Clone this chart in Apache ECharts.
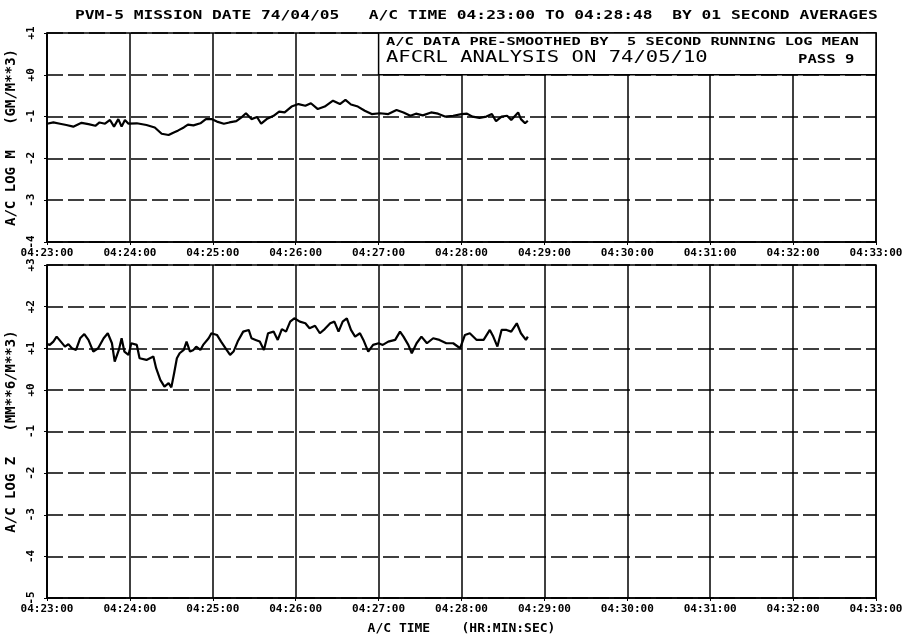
<!DOCTYPE html>
<html>
<head>
<meta charset="utf-8">
<script src="https://cdn.jsdelivr.net/npm/echarts@6/dist/echarts.min.js"></script>
<style>html,body{margin:0;padding:0;background:#fff}#c{width:906px;height:637px}</style>
</head>
<body>
<div id="c"></div>
<script>
// seconds after 04:23:00
var topSec = [0,4.6,9.4,14,19,25,30,35,38,42,45.6,48.5,51.6,54,56.4,59,65,72,78,83,88,91,95,99,102,106,111,115,119,123,128,132,137,141,144,148,152,155,159,164,168,172,177,182,187,191,196,201,207,212,216,220,225,230,235,241,247,253,258,263,267,272,278,283,288,294,300,304,308,313,318,322,325,329,333,336,341,343,346,348];
var topVal = [-1.17,-1.14,-1.17,-1.2,-1.24,-1.15,-1.18,-1.22,-1.14,-1.17,-1.08,-1.24,-1.06,-1.24,-1.08,-1.17,-1.16,-1.2,-1.26,-1.41,-1.44,-1.39,-1.33,-1.26,-1.19,-1.21,-1.16,-1.06,-1.06,-1.12,-1.17,-1.14,-1.11,-1.01,-0.92,-1.06,-1.01,-1.17,-1.06,-0.98,-0.88,-0.9,-0.76,-0.7,-0.74,-0.68,-0.82,-0.76,-0.62,-0.7,-0.6,-0.71,-0.76,-0.86,-0.94,-0.92,-0.94,-0.84,-0.9,-0.98,-0.93,-0.97,-0.9,-0.93,-1.0,-0.98,-0.94,-0.93,-1.0,-1.03,-1.0,-0.94,-1.11,-1.0,-0.98,-1.08,-0.9,-1.06,-1.16,-1.1];
var botSec = [0,2,4.6,7,10,13,15.5,18,21,24,27,30,33.5,37,41,44,47,49,52,54,56,59,61,65,67,72,77,79,82,85,88,90,92,94,96,99,101,103.5,106,108,111,113,117,119,123,126,130,132.5,135,138,142,146,148,151,154,157,160,164,167,170,173,176,179,183,187,190,194,197.5,201,205,208,211,214,217,220,223,226.5,229,232.5,236,240,243,247,252,255.5,258,261.5,264,267.5,271,275,279.5,284,289,294,299,302.5,306,311,316,320.5,323,326,329,332.6,336,340,343,346.6,348];
var botVal = [1.1,1.08,1.16,1.28,1.16,1.04,1.1,1.0,0.96,1.24,1.34,1.2,0.92,1.0,1.24,1.36,1.12,0.68,0.96,1.24,0.92,0.84,1.12,1.08,0.76,0.72,0.8,0.52,0.24,0.08,0.16,0.06,0.4,0.76,0.88,0.96,1.16,0.92,0.96,1.04,0.96,1.08,1.24,1.36,1.32,1.16,0.96,0.84,0.92,1.16,1.4,1.44,1.24,1.2,1.16,0.96,1.36,1.4,1.2,1.46,1.4,1.64,1.72,1.64,1.6,1.48,1.54,1.36,1.46,1.6,1.64,1.4,1.64,1.72,1.44,1.28,1.36,1.2,0.92,1.08,1.12,1.08,1.16,1.2,1.4,1.28,1.08,0.88,1.12,1.28,1.12,1.24,1.2,1.12,1.12,1.0,1.32,1.36,1.2,1.2,1.44,1.28,1.04,1.44,1.44,1.4,1.6,1.36,1.2,1.28];
var xTickMinutes = ['04:23:00','04:24:00','04:25:00','04:26:00','04:27:00','04:28:00','04:29:00','04:30:00','04:31:00','04:32:00','04:33:00'];
var titleText = 'PVM-5 MISSION DATE 74/04/05   A/C TIME 04:23:00 TO 04:28:48  BY 01 SECOND AVERAGES';
var boxLine1 = 'A/C DATA PRE-SMOOTHED BY  5 SECOND RUNNING LOG MEAN';
var boxLine2 = 'AFCRL ANALYSIS ON 74/05/10';
var boxPass = 'PASS 9';
var topYName = 'A/C LOG M   (GM/M**3)';
var botYName = 'A/C LOG Z   (MM**6/M**3)';
var xName = 'A/C TIME    (HR:MIN:SEC)';

function pairs(a, b) { return a.map(function (s, i) { return [s, b[i]]; }); }
var FONT = 'DejaVu Sans Mono';
function xAxisCfg(idx, name) {
  return {
    type: 'value', gridIndex: idx, min: 0, max: 600, interval: 60,
    name: name || '', nameLocation: 'middle', nameGap: 24,
    nameTextStyle: { fontFamily: FONT, fontSize: 13, color: '#000', fontWeight: 'bold' },
    axisLine: { show: true, onZero: false, lineStyle: { color: '#000', width: 1.5 } },
    axisTick: { show: true, length: 3, lineStyle: { color: '#000' } },
    axisLabel: { margin: 6, fontFamily: FONT, fontSize: 11, fontWeight: 'bold', color: '#000',
      formatter: function (v) { return xTickMinutes[Math.round(v / 60)]; } },
    splitLine: { show: true, lineStyle: { color: '#000', width: 1.5 } }
  };
}
function yAxisCfg(idx, mn, mx, name) {
  return {
    type: 'value', gridIndex: idx, min: mn, max: mx, interval: 1,
    name: name, nameLocation: 'middle', nameGap: 26, nameRotate: 90,
    nameTextStyle: { fontFamily: FONT, fontSize: 14, fontWeight: 'bold', color: '#000' },
    axisLine: { show: true, onZero: false, lineStyle: { color: '#000', width: 1.5 } },
    axisTick: { show: true, length: 3, lineStyle: { color: '#000' } },
    axisLabel: { rotate: 90, margin: 10, fontFamily: FONT, fontSize: 11, fontWeight: 'bold', color: '#000',
      formatter: function (v) { return v >= 0 ? '+' + v : String(v); } },
    splitLine: { show: true, lineStyle: { color: '#000', width: 1.5, type: [16, 5] } }
  };
}
var chart = echarts.init(document.getElementById('c'), null, { renderer: 'canvas' });
chart.setOption({
  backgroundColor: '#fff',
  animation: false,
  grid: [
    { left: 47, right: 30, top: 33, height: 209, containLabel: false, outerBoundsMode: 'none', show: true, borderColor: '#000', borderWidth: 1.5, backgroundColor: 'transparent' },
    { left: 47, right: 30, top: 265, height: 333, containLabel: false, outerBoundsMode: 'none', show: true, borderColor: '#000', borderWidth: 1.5, backgroundColor: 'transparent' }
  ],
  xAxis: [xAxisCfg(0), xAxisCfg(1, xName)],
  yAxis: [yAxisCfg(0, -4, 1, topYName), yAxisCfg(1, -5, 3, botYName)],
  series: [
    { type: 'line', xAxisIndex: 0, yAxisIndex: 0, data: pairs(topSec, topVal), showSymbol: false,
      lineStyle: { color: '#000', width: 2.2 },
      markArea: { silent: true, itemStyle: { color: '#fff', borderColor: '#000', borderWidth: 1.5 },
        data: [[{ xAxis: 240, yAxis: 1 }, { xAxis: 600, yAxis: 0 }]] } },
    { type: 'line', xAxisIndex: 1, yAxisIndex: 1, data: pairs(botSec, botVal), showSymbol: false,
      lineStyle: { color: '#000', width: 2.2 } }
  ],
  graphic: [
    { type: 'text', left: 75, top: 10, scaleX: 1.355, z: 100,
      style: { text: titleText, font: 'bold 12px "DejaVu Sans Mono"', fill: '#000' } },
    { type: 'text', x: 386, y: 37, scaleX: 1.4, z: 100,
      style: { text: boxLine1, font: 'bold 11px "DejaVu Sans Mono"', fill: '#000' } },
    { type: 'text', x: 386, y: 51, scaleX: 1.37, z: 100,
      style: { text: boxLine2, font: '15px "DejaVu Sans Mono"', fill: '#000' } },
    { type: 'text', x: 798, y: 54, scaleX: 1.3, z: 100,
      style: { text: boxPass, font: 'bold 12px "DejaVu Sans Mono"', fill: '#000' } }
  ]
});
</script>
</body>
</html>
